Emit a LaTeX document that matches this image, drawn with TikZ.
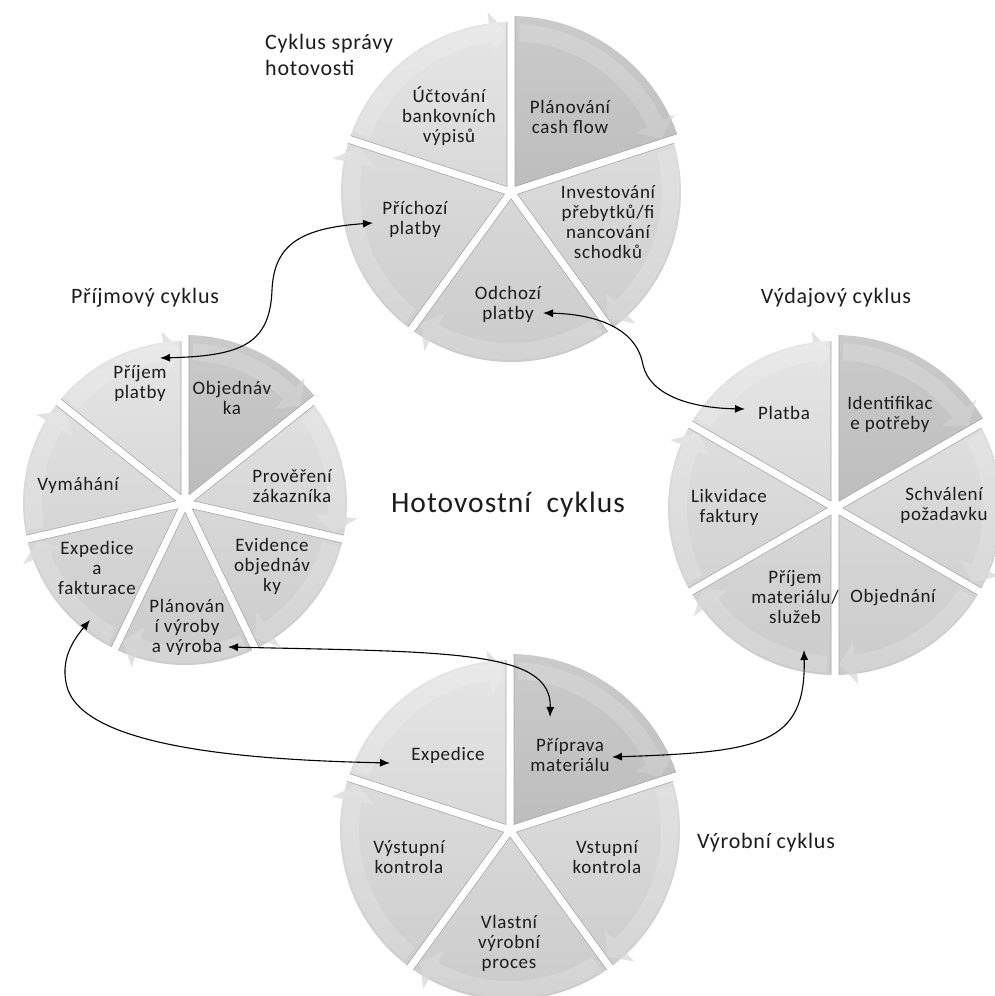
\documentclass[tikz,border=0pt]{standalone}
\usepackage{fontspec}
\setmainfont{Carlito}[LetterSpace=3.5]
\usetikzlibrary{arrows.meta}

\definecolor{wedgeTop}{HTML}{E6E6E6}
\definecolor{wedgeBottom}{HTML}{CACACA}
\definecolor{keyTop}{HTML}{CBCBCB}
\definecolor{keyBottom}{HTML}{AEAEAE}
\definecolor{ringArrow}{HTML}{DDDDDD}
\definecolor{seamLine}{HTML}{A8A8A8}
\definecolor{labelInk}{HTML}{1C1C1C}

\tikzset{
  lightwedge/.style={top color=wedgeTop, bottom color=wedgeBottom},
  keywedge/.style={top color=keyTop, bottom color=keyBottom},
  ringunder/.style={fill=ringArrow},
  ringover/.style={fill=white, fill opacity=0.16},
  seam/.style={draw=seamLine, line width=0.6pt},
  seglabel/.style={align=center, text=labelInk, inner sep=0pt,
    font=\fontsize{19}{20}\selectfont},
  cycletitle/.style={align=left, text=labelInk, inner sep=0pt,
    font=\fontsize{22}{26}\selectfont},
  maintitle/.style={text=labelInk, inner sep=0pt,
    font=\fontsize{29.5}{36}\selectfont},
  link/.style={line width=1.1pt,
    {Latex[length=10pt,width=8pt]}-{Latex[length=10pt,width=8pt]}},
}

% circular arrow lying on the rim of one segment
% #1 start angle, #2 end angle (clockwise), #3 rim radius, #4 style
\newcommand{\rimarrow}[4]{%
  \pgfmathsetmacro{\rimS}{#1-3}%
  \pgfmathsetmacro{\rimH}{#2+1260/#3}%
  \pgfmathsetmacro{\rimT}{#2+1.5}%
  \pgfmathsetmacro{\rimO}{#3-2}%
  \pgfmathsetmacro{\rimI}{#3-19}%
  \pgfmathsetmacro{\rimHo}{#3+11}%
  \pgfmathsetmacro{\rimHi}{#3-32}%
  \pgfmathsetmacro{\rimTr}{#3-10.5}%
  \path[#4] (\rimS:\rimO pt) arc[start angle=\rimS, end angle=\rimH, radius=\rimO pt]
    -- (\rimH:\rimHo pt) -- (\rimT:\rimTr pt) -- (\rimH:\rimHi pt) -- (\rimH:\rimI pt)
    arc[start angle=\rimH, end angle=\rimS, radius=\rimI pt] -- cycle;
}

% segmented wheel: #1 segments, #2 rim radius;
% the segment starting at twelve o'clock is the highlighted one
\newcommand{\wheel}[2]{%
  \pgfmathsetmacro{\segD}{360/#1}%
  \pgfmathtruncatemacro{\segLast}{#1-1}%
  \pgfmathsetmacro{\segC}{#2+10}%
  \foreach \k in {0,...,\segLast}{%
    \pgfmathsetmacro{\segS}{90-\k*\segD}%
    \pgfmathsetmacro{\segE}{\segS-\segD}%
    \rimarrow{\segS}{\segE}{#2}{ringunder}%
  }%
  \foreach \k in {0,...,\segLast}{%
    \pgfmathsetmacro{\segS}{90-\k*\segD}%
    \pgfmathsetmacro{\segM}{\segS-\segD/2}%
    \pgfmathsetmacro{\segA}{4/sin(\segD/2)}%
    \ifnum\k=0 \pgfmathsetmacro{\segR}{#2+6}\else\pgfmathsetmacro{\segR}{#2}\fi
    \pgfmathsetmacro{\segDel}{asin(4/\segR)}%
    \pgfmathsetmacro{\segP}{\segS-\segDel}%
    \pgfmathsetmacro{\segQ}{\segS-\segD+\segDel}%
    \begin{scope}
      \clip (\segM:\segA pt) -- (\segP:\segR pt)
        arc[start angle=\segP, end angle=\segQ, radius=\segR pt] -- cycle;
      \ifnum\k=0
        \shade[keywedge] (0,0) circle[radius=\segC pt];
      \else
        \shade[lightwedge] (0,0) circle[radius=\segC pt];
      \fi
    \end{scope}
    \draw[seam] (\segP:\segR pt) -- (\segM:\segA pt) -- (\segQ:\segR pt);
  }%
  \foreach \k in {0,...,\segLast}{%
    \pgfmathsetmacro{\segS}{90-\k*\segD}%
    \pgfmathsetmacro{\segE}{\segS-\segD}%
    \rimarrow{\segS}{\segE}{#2}{ringover}%
  }%
}

\begin{document}
\begin{tikzpicture}[x=1pt,y=1pt]
  \fill[white] (0,0) rectangle (995,-996);
  \useasboundingbox (0,0) rectangle (995,-996);

  % the four wheels
  \begin{scope}[shift={(511,-192)}] \wheel{5}{170} \end{scope}
  \begin{scope}[shift={(185,-503)}] \wheel{7}{162} \end{scope}
  \begin{scope}[shift={(835,-508)}] \wheel{6}{167} \end{scope}
  \begin{scope}[shift={(510,-830)}] \wheel{5}{170} \end{scope}

  % cash management cycle
  \node[cycletitle, anchor=west] (tCash) at (265,-55) {Cyklus správy\\hotovosti};
  \node[seglabel] (plan) at (570,-117) {Plánování\\cash flow};
  \node[seglabel] (invest) at (608,-222) {Investování\\přebytků/fi\\nancování\\schodků};
  \node[seglabel] (odch) at (508,-304) {Odchozí\\platby};
  \node[seglabel] (prich) at (415,-219) {Příchozí\\platby};
  \node[seglabel] (uct) at (449,-116) {Účtování\\bankovních\\výpisů};

  % revenue cycle
  \node[cycletitle] (tRev) at (145,-298) {Příjmový cyklus};
  \node[seglabel] (prijPlat) at (140,-383) {Příjem\\platby};
  \node[seglabel] (objka) at (232,-398) {Objednáv\\ka};
  \node[seglabel] (prov) at (292,-486) {Prověření\\zákazníka};
  \node[seglabel] (evid) at (272,-566) {Evidence\\objednáv\\ky};
  \node[seglabel] (planVyr) at (187,-627) {Plánován\\í výroby\\a výroba};
  \node[seglabel] (expFakt) at (97,-568) {Expedice\\a\\fakturace};
  \node[seglabel] (vymah) at (78,-485) {Vymáhání};

  % expenditure cycle
  \node[cycletitle] (tExp) at (836,-298) {Výdajový cyklus};
  \node[seglabel] (platba) at (784,-413) {Platba};
  \node[seglabel] (ident) at (890,-414) {Identifikac\\e potřeby};
  \node[seglabel] (schval) at (944,-505) {Schválení\\požadavku};
  \node[seglabel] (objn) at (893,-598) {Objednání};
  \node[seglabel] (prijMat) at (795,-597) {Příjem\\materiálu/\\služeb};
  \node[seglabel] (likv) at (729,-507) {Likvidace\\faktury};

  % production cycle
  \node[cycletitle] (tProd) at (766,-843) {Výrobní cyklus};
  \node[seglabel] (exped) at (448,-755) {Expedice};
  \node[seglabel] (pripr) at (570,-755) {Příprava\\materiálu};
  \node[seglabel] (vstup) at (607,-857) {Vstupní\\kontrola};
  \node[seglabel] (vlast) at (509,-943) {Vlastní\\výrobní\\proces};
  \node[seglabel] (vystup) at (409,-857) {Výstupní\\kontrola};

  \node[maintitle] (hot) at (508,-505) {Hotovostní\ \ cyklus};

  % connector ends
  \coordinate (cPrijPlat) at (160,-358);
  \coordinate (cPrich) at (373,-223);
  \coordinate (cOdch) at (543,-313);
  \coordinate (cPlatba) at (745,-409);
  \coordinate (cPlanVyr) at (228,-647);
  \coordinate (cPriprTop) at (550,-717);
  \coordinate (cExpFakt) at (90,-620);
  \coordinate (cExped) at (390,-763);
  \coordinate (cPrijMat) at (804,-650);
  \coordinate (cPriprRight) at (612,-757);

  \draw[link] (cPrijPlat) .. controls (240,-356) and (270,-345) .. (272,-290)
    .. controls (274,-245) and (300,-228) .. (cPrich);
  \draw[link] (cOdch) .. controls (590,-314) and (636,-325) .. (643,-365)
    .. controls (650,-395) and (690,-408) .. (cPlatba);
  \draw[link] (cPlanVyr) .. controls (450,-652) and (552,-650) .. (cPriprTop);
  \draw[link] (cExped) .. controls (250,-760) and (90,-748) .. (68,-690)
    .. controls (58,-660) and (75,-638) .. (cExpFakt);
  \draw[link] (cPriprRight) .. controls (760,-752) and (806,-745) .. (cPrijMat);
\end{tikzpicture}
\end{document}
